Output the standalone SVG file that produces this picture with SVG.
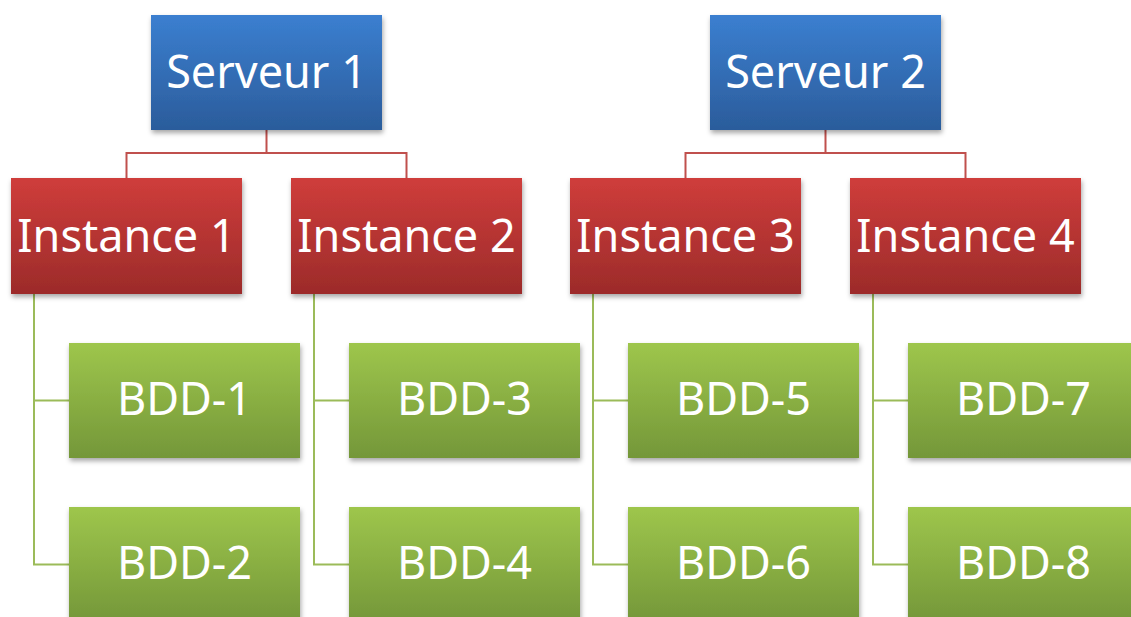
<svg xmlns="http://www.w3.org/2000/svg" width="1131" height="617" viewBox="0 0 1131 617">
<defs>
<linearGradient id="gb" x1="0" y1="0" x2="0" y2="1"><stop offset="0" stop-color="#3b7fd0"/><stop offset="1" stop-color="#2b5c9b"/></linearGradient>
<linearGradient id="gr" x1="0" y1="0" x2="0" y2="1"><stop offset="0" stop-color="#cf3d3b"/><stop offset="1" stop-color="#9c2b2a"/></linearGradient>
<linearGradient id="gg" x1="0" y1="0" x2="0" y2="1"><stop offset="0" stop-color="#9ec64c"/><stop offset="1" stop-color="#749739"/></linearGradient>
<filter id="sh" x="-10%" y="-10%" width="125%" height="130%"><feDropShadow dx="1" dy="3" stdDeviation="2.5" flood-color="#000" flood-opacity="0.35"/></filter>
</defs>
<style>
text{font-family:"Noto Sans","Open Sans",sans-serif;font-size:45px;fill:#fff;text-anchor:middle}
.srv{fill:url(#gb);filter:url(#sh)}
.ins{fill:url(#gr);filter:url(#sh)}
.bdd{fill:url(#gg);filter:url(#sh)}
.cr{fill:none;stroke:#c0504d;stroke-width:2}
.cg{fill:none;stroke:#9bbb59;stroke-width:2}
</style>
<rect width="1131" height="617" fill="#fff"/>
<g id="connectors">
<path class="cr" d="M266.5 130V153M126.5 178V153H406.5V178"/>
<path class="cr" d="M825.5 130V153M685.5 178V153H965.5V178"/>
<path class="cg" d="M34 294V564.5H69M34 400.5H69"/>
<path class="cg" d="M314 294V564.5H349M314 400.5H349"/>
<path class="cg" d="M593 294V564.5H628M593 400.5H628"/>
<path class="cg" d="M873 294V564.5H908M873 400.5H908"/>
</g>
<g id="serveur1"><rect class="srv" x="151" y="15" width="231" height="115"/><text x="266.5" y="87.5">Serveur 1</text></g>
<g id="serveur2"><rect class="srv" x="710" y="15" width="231" height="115"/><text x="825.5" y="87.5">Serveur 2</text></g>
<g id="instance1"><rect class="ins" x="11" y="178" width="231" height="116"/><text x="126.5" y="251.5">Instance 1</text></g>
<g id="instance2"><rect class="ins" x="291" y="178" width="231" height="116"/><text x="406.5" y="251.5">Instance 2</text></g>
<g id="instance3"><rect class="ins" x="570" y="178" width="231" height="116"/><text x="685.5" y="251.5">Instance 3</text></g>
<g id="instance4"><rect class="ins" x="850" y="178" width="231" height="116"/><text x="965.5" y="251.5">Instance 4</text></g>
<g id="bdd1"><rect class="bdd" x="69" y="343" width="231" height="115"/><text x="184.5" y="415">BDD-1</text></g>
<g id="bdd2"><rect class="bdd" x="69" y="507" width="231" height="115"/><text x="184.5" y="579">BDD-2</text></g>
<g id="bdd3"><rect class="bdd" x="349" y="343" width="231" height="115"/><text x="464.5" y="415">BDD-3</text></g>
<g id="bdd4"><rect class="bdd" x="349" y="507" width="231" height="115"/><text x="464.5" y="579">BDD-4</text></g>
<g id="bdd5"><rect class="bdd" x="628" y="343" width="231" height="115"/><text x="743.5" y="415">BDD-5</text></g>
<g id="bdd6"><rect class="bdd" x="628" y="507" width="231" height="115"/><text x="743.5" y="579">BDD-6</text></g>
<g id="bdd7"><rect class="bdd" x="908" y="343" width="231" height="115"/><text x="1023.5" y="415">BDD-7</text></g>
<g id="bdd8"><rect class="bdd" x="908" y="507" width="231" height="115"/><text x="1023.5" y="579">BDD-8</text></g>
</svg>
